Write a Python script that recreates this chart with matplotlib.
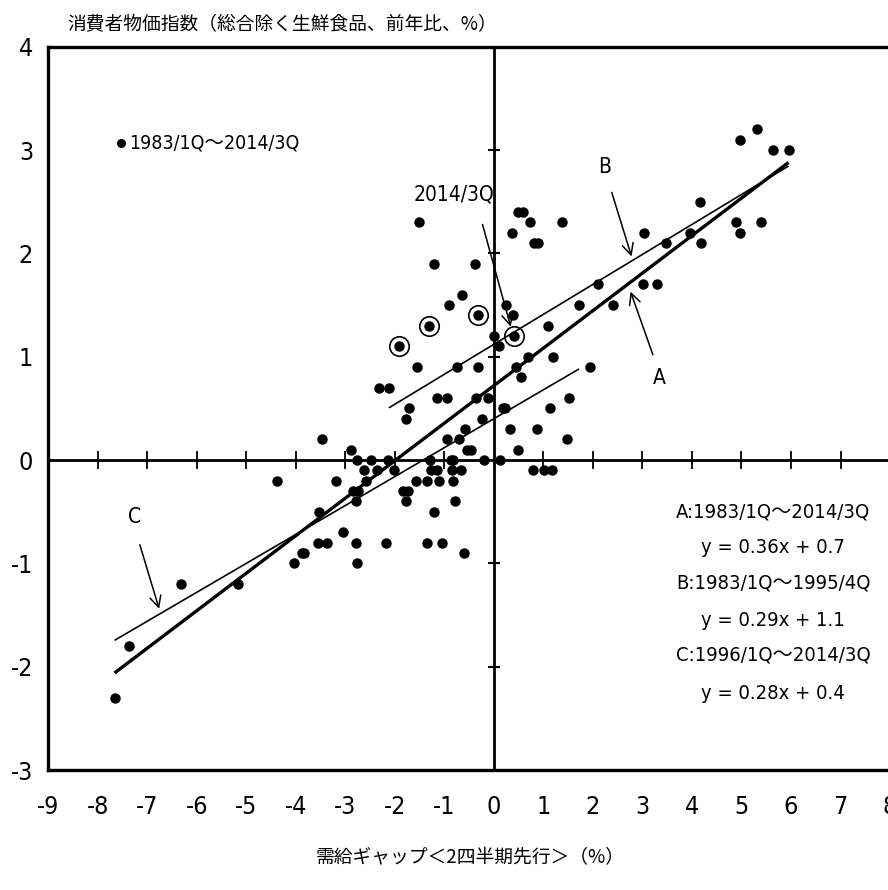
import matplotlib
matplotlib.use("Agg")
import matplotlib.pyplot as plt
from matplotlib import font_manager as fm
import numpy as np

# ---------------- data ----------------
gap = [-1.51, 0.49, 0.58, 0.72, 1.38, 0.36, 0.81, 0.90, -1.21, -0.38,
       -0.64, -0.90, 0.25, 1.71, 2.11, -0.33, 0.38, -1.31, 1.10, -1.92,
       0.00, 0.41, 0.10, -1.56, -0.74, -0.33, 0.44, 0.69, 1.20, 1.94,
       0.54, -2.32, -2.12, -1.15, -0.95, -0.36, -0.11, -1.72, -1.77, -0.24,
       0.18, 0.23, 1.13, 1.51, 0.33, 0.87, -0.59, 1.48, -3.48, -0.94,
       -0.71, -0.54, -0.47, 0.48, -2.88, -2.77, -2.48, -2.14, -1.30, -0.86,
       -0.82, -0.20, 0.13, -2.63, -2.36, -2.02, -1.26, -1.15, -0.84, -0.67,
       0.79, 1.02, 1.17, -4.37, -3.19, -2.59, -1.58, -1.36, -1.11, -0.82,
       -2.84, -2.74, -1.84, -1.74, -2.79, -1.77, -0.79, -3.53, -1.20, -3.04,
       -3.55, -3.37, -2.79, -2.18, -1.35, -1.05, -3.87, -3.84, -0.61, -4.04,
       -2.76, -5.17, -6.31, -7.36, -7.66, 4.96, 5.31, 5.64, 5.95, 4.16,
       4.88, 5.39, 4.96, 3.04, 3.48, 3.96, 4.19, 3.02, 3.30, 2.40]
cpi = [2.3, 2.4, 2.4, 2.3, 2.3, 2.2, 2.1, 2.1, 1.9, 1.9,
       1.6, 1.5, 1.5, 1.5, 1.7, 1.4, 1.4, 1.3, 1.3, 1.1,
       1.2, 1.2, 1.1, 0.9, 0.9, 0.9, 0.9, 1.0, 1.0, 0.9,
       0.8, 0.7, 0.7, 0.6, 0.6, 0.6, 0.6, 0.5, 0.4, 0.4,
       0.5, 0.5, 0.5, 0.6, 0.3, 0.3, 0.3, 0.2, 0.2, 0.2,
       0.2, 0.1, 0.1, 0.1, 0.1, 0.0, 0.0, 0.0, 0.0, 0.0,
       0.0, 0.0, 0.0, -0.1, -0.1, -0.1, -0.1, -0.1, -0.1, -0.1,
       -0.1, -0.1, -0.1, -0.2, -0.2, -0.2, -0.2, -0.2, -0.2, -0.2,
       -0.3, -0.3, -0.3, -0.3, -0.4, -0.4, -0.4, -0.5, -0.5, -0.7,
       -0.8, -0.8, -0.8, -0.8, -0.8, -0.8, -0.9, -0.9, -0.9, -1.0,
       -1.0, -1.2, -1.2, -1.8, -2.3, 3.1, 3.2, 3.0, 3.0, 2.5,
       2.3, 2.3, 2.2, 2.2, 2.1, 2.2, 2.1, 1.7, 1.7, 1.5]

# circled quarters (the last one is 2014/3Q)
hl_gap = [-1.92, -1.31, -0.33, 0.41]
hl_cpi = [1.1, 1.3, 1.4, 1.2]

# regression lines: name, slope, intercept, x-range
fit_names = ["A", "B", "C"]
fit_slope = [0.363, 0.29, 0.28]
fit_icpt = [0.72, 1.12, 0.40]
fit_xmin = [-7.66, -2.12, -7.66]
fit_xmax = [5.95, 5.95, 1.72]

eq_lines = ["A:1983/1Q～2014/3Q", "y = 0.36x + 0.7",
            "B:1983/1Q～1995/4Q", "y = 0.29x + 1.1",
            "C:1996/1Q～2014/3Q", "y = 0.28x + 0.4"]

xticks = list(range(-9, 9))
yticks = list(range(-3, 5))

title_txt = "消費者物価指数（総合除く生鮮食品、前年比、%）"
xlabel_txt = "需給ギャップ＜2四半期先行＞（%）"
legend_txt = "1983/1Q～2014/3Q"

# ---------------- fonts ----------------
def pick(cands):
    for c in cands:
        try:
            fm.findfont(fm.FontProperties(family=c), fallback_to_default=False)
            return c
        except Exception:
            pass
    return "DejaVu Sans"

narrow = pick(["Liberation Sans Narrow", "DejaVu Sans"])
cjk = pick(["Noto Sans CJK JP", "Noto Sans CJK SC"])
plt.rcParams["font.family"] = [narrow, cjk, "DejaVu Sans"]
plt.rcParams["font.stretch"] = "condensed"
plt.rcParams["axes.unicode_minus"] = False
jp_family = [cjk, "DejaVu Sans"]
num_family = [narrow, cjk, "DejaVu Sans"]
NUM = dict(family=num_family, stretch="condensed")

# ---------------- figure ----------------
fig = plt.figure(figsize=(8.88, 8.90), dpi=100)
ax = fig.add_axes([0.0543, 0.1348, 0.948, 0.8127])
ax.set_xlim(-9, 8)
ax.set_ylim(-3, 4)

for sp in ax.spines.values():
    sp.set_linewidth(2.4)
    sp.set_color("black")

ax.set_xticks(xticks)
ax.set_yticks(yticks)
ax.tick_params(axis="both", length=0, labelsize=18)
ax.tick_params(axis="x", pad=18)
ax.tick_params(axis="y", pad=11)
for lab in ax.get_xticklabels() + ax.get_yticklabels():
    lab.set_fontfamily(num_family)
    lab.set_fontstretch("condensed")

# zero axes with crossing tick marks
ax.axhline(0, color="black", lw=2.0, zorder=2)
ax.axvline(0, color="black", lw=2.0, zorder=2)
inner_x = [t for t in xticks if t not in (0, xticks[0])]
inner_y = [t for t in yticks if t not in (0, yticks[0], yticks[-1])]
ax.plot(inner_x, [0] * len(inner_x), ls="none", marker="|", ms=13, mew=1.3,
        color="black", zorder=2)
ax.plot([0] * len(inner_y), inner_y, ls="none", marker="_", ms=8, mew=1.5,
        color="black", zorder=2)

# regression lines
widths = {"A": 2.4, "B": 1.2, "C": 1.2}
for n, s, b, x0, x1 in zip(fit_names, fit_slope, fit_icpt, fit_xmin, fit_xmax):
    xs = np.array([x0, x1])
    ax.plot(xs, s * xs + b, color="black", lw=widths[n], zorder=3,
            solid_capstyle="butt")

# scatter
ax.plot(gap, cpi, ls="none", marker="o", ms=6.5, color="black", zorder=4)
ax.plot(hl_gap, hl_cpi, ls="none", marker="o", ms=14, mfc="none",
        mec="black", mew=1.2, zorder=4)

# legend-like label
ax.plot([-7.53], [3.07], ls="none", marker="o", ms=5.5, color="black")
ax.text(-7.36, 3.07, legend_txt, ha="left", va="center", fontsize=14, **NUM)

# annotations
ann = [("2014/3Q", (-0.81, 2.57), (-0.23, 2.28), (0.34, 1.29)),
       ("B", (2.24, 2.84), (2.38, 2.59), (2.78, 1.97)),
       ("A", (3.35, 0.79), (3.21, 1.02), (2.76, 1.63)),
       ("C", (-7.25, -0.55), (-7.15, -0.82), (-6.76, -1.44))]
for label, tpos, tail, head in ann:
    ax.text(tpos[0], tpos[1], label, ha="center", va="center", fontsize=15,
            **NUM)
    ax.annotate("", xy=head, xytext=tail,
                arrowprops=dict(arrowstyle="->", lw=1.1, color="black",
                                shrinkA=0, shrinkB=0, mutation_scale=20))

# equation block
eq_y = [-0.50, -0.85, -1.19, -1.55, -1.89, -2.26]
for t, yy in zip(eq_lines, eq_y):
    ax.text(5.64, yy, t, ha="center", va="center", fontsize=14.5, **NUM)

# title and x label
ax.set_title(title_txt, loc="left", fontsize=13.5, family=jp_family,
             x=0.0223, y=1.031, pad=0, va="center")
ax.set_xlabel(xlabel_txt, fontsize=13.5, family=jp_family)
ax.xaxis.set_label_coords(0.501, -0.1217)
ax.xaxis.label.set_va("center")

fig.savefig("out.png", dpi=100)
